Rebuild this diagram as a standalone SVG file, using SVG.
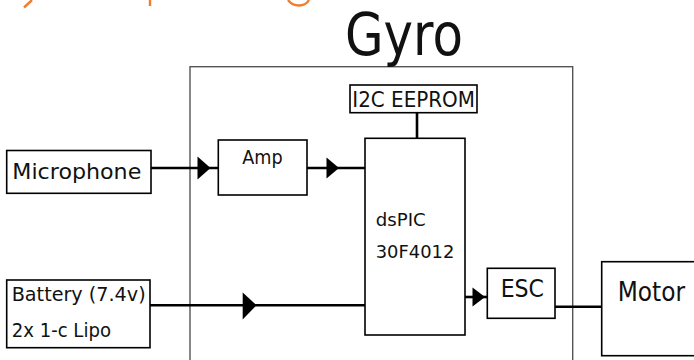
<svg xmlns="http://www.w3.org/2000/svg" width="694" height="360" viewBox="0 0 694 360">
  <style>
    .box { fill: #ffffff; stroke: #000000; stroke-width: 1.6; }
    .frame { fill: none; stroke: #555555; stroke-width: 1.4; }
    .wire { fill: none; stroke: #000000; stroke-width: 2.6; }
    .head { fill: #000000; stroke: none; }
    .lbl { font-family: "DejaVu Sans", "Liberation Sans", sans-serif; fill: #111111; }
    .frag { fill: none; stroke: #F07C2E; stroke-width: 2.4; stroke-linecap: butt; }
  </style>
  <rect width="694" height="360" fill="#ffffff"/>

  <g id="title-fragment">
    <path class="frag" d="M32,0 L24,7.5"/>
    <path class="frag" d="M150,0 L150,6"/>
    <path class="frag" d="M288,0 Q292,5.5 299,5.5 Q306,5.5 309,0"/>
  </g>

  <g id="gyro">
    <rect class="frame" x="190" y="66.7" width="382.7" height="320"/>
    <text class="lbl" x="345" y="55" font-size="59" textLength="118" lengthAdjust="spacingAndGlyphs">Gyro</text>
  </g>

  <g id="connectors">
    <line class="wire" x1="151" y1="168" x2="218.3" y2="168"/>
    <path class="head" d="M197.5,156.5 L210.5,168 L197.5,179.5 Z"/>
    <line class="wire" x1="307" y1="168" x2="365" y2="168"/>
    <path class="head" d="M326.5,157.5 L339,168 L326.5,178.5 Z"/>
    <line class="wire" x1="150" y1="305.3" x2="365" y2="305.3"/>
    <path class="head" d="M242.7,292.5 L256.5,305.3 L242.7,319.5 Z"/>
    <line class="wire" x1="465" y1="297" x2="487.3" y2="297"/>
    <path class="head" d="M472.5,287.5 L485,297 L472.5,306.5 Z"/>
    <line class="wire" x1="417" y1="112.7" x2="417" y2="138.3"/>
    <line class="wire" x1="555" y1="306.7" x2="601.7" y2="306.7"/>
  </g>

  <g id="microphone">
    <rect class="box" x="6.7" y="150.5" width="144.3" height="42.8"/>
    <text class="lbl" x="12.3" y="179.3" font-size="22" textLength="129" lengthAdjust="spacingAndGlyphs">Microphone</text>
  </g>

  <g id="amp">
    <rect class="box" x="218.3" y="140" width="88.7" height="55"/>
    <text class="lbl" x="242.3" y="164.3" font-size="19.5" textLength="40.4" lengthAdjust="spacingAndGlyphs">Amp</text>
  </g>

  <g id="eeprom">
    <rect class="box" x="350" y="85" width="127" height="27.7"/>
    <text class="lbl" x="352.3" y="106.7" font-size="20.5" textLength="122.7" lengthAdjust="spacingAndGlyphs">I2C EEPROM</text>
  </g>

  <g id="dspic">
    <rect class="box" x="365" y="138.3" width="100" height="196.7"/>
    <text class="lbl" x="375.7" y="225.7" font-size="18" textLength="50" lengthAdjust="spacingAndGlyphs">dsPIC</text>
    <text class="lbl" x="375.7" y="258.3" font-size="18.5" textLength="78.6" lengthAdjust="spacingAndGlyphs">30F4012</text>
  </g>

  <g id="esc">
    <rect class="box" x="487.3" y="268.3" width="67.7" height="50"/>
    <text class="lbl" x="500.7" y="296.7" font-size="25" textLength="43.3" lengthAdjust="spacingAndGlyphs">ESC</text>
  </g>

  <g id="motor">
    <rect class="box" x="601.7" y="261.7" width="100" height="94"/>
    <text class="lbl" x="617.7" y="300.7" font-size="26" textLength="67.3" lengthAdjust="spacingAndGlyphs">Motor</text>
  </g>

  <g id="battery">
    <rect class="box" x="6.7" y="280" width="143.3" height="67.7"/>
    <text class="lbl" x="11.7" y="300.7" font-size="20" textLength="134" lengthAdjust="spacingAndGlyphs">Battery (7.4v)</text>
    <text class="lbl" x="11.7" y="336.7" font-size="20" textLength="99.3" lengthAdjust="spacingAndGlyphs">2x 1-c Lipo</text>
  </g>
</svg>
